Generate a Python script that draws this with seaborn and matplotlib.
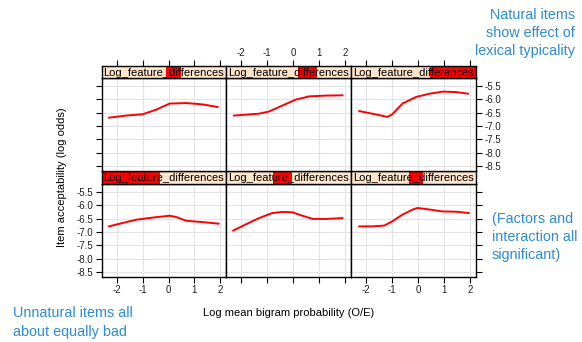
import numpy as np
import pandas as pd
import matplotlib
matplotlib.use("Agg")
import matplotlib.pyplot as plt
import seaborn as sns
from matplotlib.patches import Rectangle

# ---------------- data ----------------
strip_label = "Log_feature_differences"
# shingle intervals (fraction of the strip) for the 6 levels: bottom row L->R, then top row L->R
shingle_lo = [0.00, 0.376, 0.464, 0.516, 0.576, 0.632]
shingle_hi = [0.47, 0.528, 0.576, 0.637, 0.728, 1.00]

# panel 1 (bottom-left)
x_p1 = [-2.31, -1.64, -1.25, -0.61, 0.04, 0.30, 0.69, 1.33, 1.95]
y_p1 = [-6.79, -6.63, -6.54, -6.46, -6.39, -6.44, -6.58, -6.63, -6.69]
# panel 2 (bottom-middle)
x_p2 = [-2.31, -1.70, -1.31, -0.80, -0.41, -0.03, 0.36, 0.75, 1.27, 1.91]
y_p2 = [-6.95, -6.66, -6.48, -6.29, -6.25, -6.26, -6.39, -6.51, -6.51, -6.48]
# panel 3 (bottom-right)
x_p3 = [-2.27, -1.76, -1.30, -0.99, -0.60, -0.21, -0.02, 0.31, 0.95, 1.47, 1.96]
y_p3 = [-6.79, -6.79, -6.76, -6.60, -6.35, -6.16, -6.10, -6.14, -6.23, -6.24, -6.29]
# panel 4 (top-left)
x_p4 = [-2.31, -1.64, -1.00, -0.48, 0.04, 0.69, 1.32, 1.91]
y_p4 = [-6.69, -6.61, -6.56, -6.39, -6.16, -6.14, -6.19, -6.29]
# panel 5 (top-middle)
x_p5 = [-2.28, -1.31, -0.93, -0.54, 0.11, 0.62, 1.27, 1.91]
y_p5 = [-6.61, -6.54, -6.46, -6.29, -6.01, -5.89, -5.86, -5.85]
# panel 6 (top-right)
x_p6 = [-2.27, -1.76, -1.18, -0.99, -0.60, -0.07, 0.44, 0.96, 1.48, 1.93]
y_p6 = [-6.44, -6.54, -6.66, -6.56, -6.16, -5.91, -5.79, -5.71, -5.73, -5.79]

x_ticks = [-2, -1, 0, 1, 2]
y_ticks = [-5.5, -6.0, -6.5, -7.0, -7.5, -8.0, -8.5]
y_ticklabels = ["-5.5", "-6.0", "-6.5", "-7.0", "-7.5", "-8.0", "-8.5"]

xs = [x_p1, x_p2, x_p3, x_p4, x_p5, x_p6]
ys = [y_p1, y_p2, y_p3, y_p4, y_p5, y_p6]
df = pd.concat([pd.DataFrame({"panel": i, "x": xx, "y": yy})
                for i, (xx, yy) in enumerate(zip(xs, ys))], ignore_index=True)

# ---------------- style ----------------
sns.set_theme(style="white")
plt.rcParams["font.family"] = ["Liberation Sans", "DejaVu Sans"]

W, H = 582, 342
fig = plt.figure(figsize=(W / 100, H / 100), dpi=100)

def box(x0, y0, x1, y1):
    return [x0 / W, 1 - y1 / H, (x1 - x0) / W, (y1 - y0) / H]

col_edges = [102, 226, 351, 476]
# rows: (strip_top, strip_bottom/panel_top, panel_bottom)
rows = {1: (66, 78, 171), 0: (171, 184, 277)}  # 1 = top row, 0 = bottom row
XLIM = (-2.58, 2.23)
YLIM = (-8.69, -5.20)
peach = "#FFE5CC"
blue = "#2E8BD6"
tickcol = "#222222"

for lvl in range(6):
    r = lvl // 3
    c = lvl % 3
    st, pt, pb = rows[r]
    x0, x1 = col_edges[c], col_edges[c + 1]

    # panel
    ax = fig.add_axes(box(x0, pt, x1, pb))
    sub = df[df.panel == lvl]
    sns.lineplot(data=sub, x="x", y="y", ax=ax, color="red", lw=1.4,
                 sort=False, estimator=None)
    ax.set_xlim(*XLIM)
    ax.set_ylim(*YLIM)
    ax.set_xticks(x_ticks)
    ax.set_yticks(y_ticks)
    ax.set_yticklabels(y_ticklabels)
    ax.set_xticklabels([str(v) for v in x_ticks])
    ax.grid(True, color="#E4E4E4", lw=0.8)
    ax.set_axisbelow(True)
    ax.set_xlabel("")
    ax.set_ylabel("")
    for s in ax.spines.values():
        s.set_color("black")
        s.set_linewidth(1.0)
        s.set_visible(True)
    ax.tick_params(axis="both", which="both", direction="out", length=4,
                   width=0.8, color="black", labelsize=7, labelcolor=tickcol, pad=2)
    ax.tick_params(axis="x", bottom=(r == 0), top=False,
                   labelbottom=(r == 0 and c != 1), labeltop=False)
    ax.tick_params(axis="y", left=(c == 0), right=(c == 2),
                   labelleft=(c == 0 and r == 0), labelright=(c == 2 and r == 1))

    # strip
    sa = fig.add_axes(box(x0, st, x1, pt))
    sa.set_facecolor(peach)
    sa.add_patch(Rectangle((shingle_lo[lvl], 0), shingle_hi[lvl] - shingle_lo[lvl], 1,
                           transform=sa.transAxes, color="red", lw=0, zorder=1))
    sa.text(0.5, 0.45, strip_label, transform=sa.transAxes, ha="center", va="center",
            fontsize=8, color="black", zorder=3)
    sa.set_xlim(*XLIM)
    sa.set_yticks([])
    sa.set_xticks(x_ticks)
    sa.set_xticklabels([str(v) for v in x_ticks])
    for s in sa.spines.values():
        s.set_color("black")
        s.set_linewidth(1.0)
        s.set_visible(True)
    sa.tick_params(axis="x", direction="out", length=4, width=0.8, color="black",
                   labelsize=7, labelcolor=tickcol, pad=2,
                   bottom=False, labelbottom=False, top=(r == 1),
                   labeltop=(r == 1 and c == 1))

# axis labels
fig.text(289 / W, 1 - 313 / H, "Log mean bigram probability (O/E)", ha="center",
         va="center", fontsize=8, color="black")
fig.text(62 / W, 1 - 177.5 / H, "Item acceptability (log odds)", ha="center",
         va="center", rotation=90, fontsize=8, color="black")

# annotations
fig.text(575 / W, 1 - 33 / H, "Natural items\nshow effect of\nlexical typicality",
         ha="right", va="center", fontsize=10.4, color=blue, linespacing=1.38)
fig.text(492 / W, 1 - 237 / H, "(Factors and\ninteraction all\nsignificant)",
         ha="left", va="center", fontsize=10.4, color=blue, linespacing=1.38)
fig.text(13 / W, 1 - 322.5 / H, "Unnatural items all\nabout equally bad",
         ha="left", va="center", fontsize=10.4, color=blue, linespacing=1.38)

fig.savefig("out.png", dpi=100)
